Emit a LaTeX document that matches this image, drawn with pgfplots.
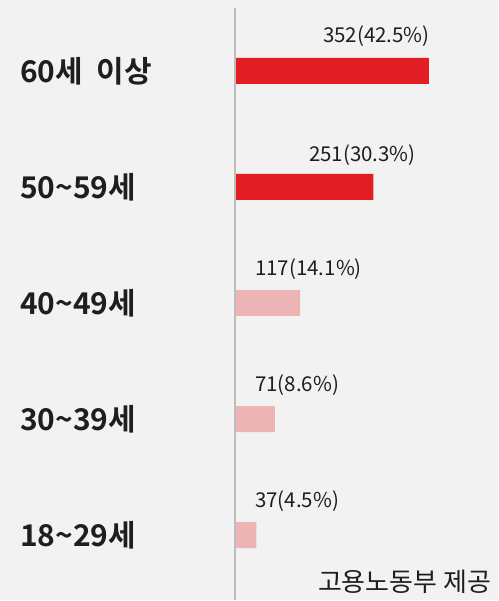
\documentclass[border=0pt]{standalone}
\usepackage{pgfplots}
\pgfplotsset{compat=1.18}
\usepackage{fontspec}
\setmainfont{Noto Sans CJK KR}[BoldFont={Noto Sans CJK KR Bold}]
\definecolor{bg}{RGB}{242,242,242}
\definecolor{barred}{RGB}{226,30,36}
\definecolor{barpink}{RGB}{236,180,180}
\definecolor{vline}{RGB}{190,190,190}
\definecolor{txt}{RGB}{30,30,30}
\begin{document}
\begin{tikzpicture}[x=1pt,y=1pt]
\fill[bg] (0,0) rectangle (499,601);
\begin{axis}[
  at={(236.5pt,0pt)}, anchor=south west,
  scale only axis, width=262.5pt, height=593pt,
  xmin=0, xmax=478.8, ymin=-0.559, ymax=4.542,
  xbar, bar width=26pt, bar shift=0pt,
  axis line style={draw=none}, major tick length=0pt,
  xtick=\empty, ytick={0,1,2,3,4},
  yticklabels={18\textasciitilde 29세,30\textasciitilde 39세,40\textasciitilde 49세,50\textasciitilde 59세,60세\ \ 이상},
  yticklabel style={anchor=west, inner sep=0pt, xshift=-216.5pt,
    font=\fontsize{30}{30}\selectfont\bfseries, text=txt},
  clip=false,
]
\draw[vline, line width=2pt] ([xshift=-1pt]axis cs:0,-0.559) -- ([xshift=-1pt]axis cs:0,4.542);
\addplot[fill=barpink, draw=none] coordinates {(37,0) (71,1) (117,2)};
\addplot[fill=barred, draw=none] coordinates {(251,3) (352,4)};
\begin{scope}[every node/.style={anchor=west, inner sep=0pt, text=txt, font=\fontsize{20.5}{20.5}\selectfont}]
\node at (axis cs:158.7,4.30) {352(42.5\%)};
\node at (axis cs:133.1,3.275) {251(30.3\%)};
\node at (axis cs:34.6,2.29) {117(14.1\%)};
\node at (axis cs:34.6,1.29) {71(8.6\%)};
\node at (axis cs:34.6,0.29) {37(4.5\%)};
\end{scope}
\end{axis}
\node[anchor=east, inner sep=0pt, text=txt, font=\fontsize{26}{26}\selectfont] at (492,18) {고용노동부 제공};
\end{tikzpicture}
\end{document}
